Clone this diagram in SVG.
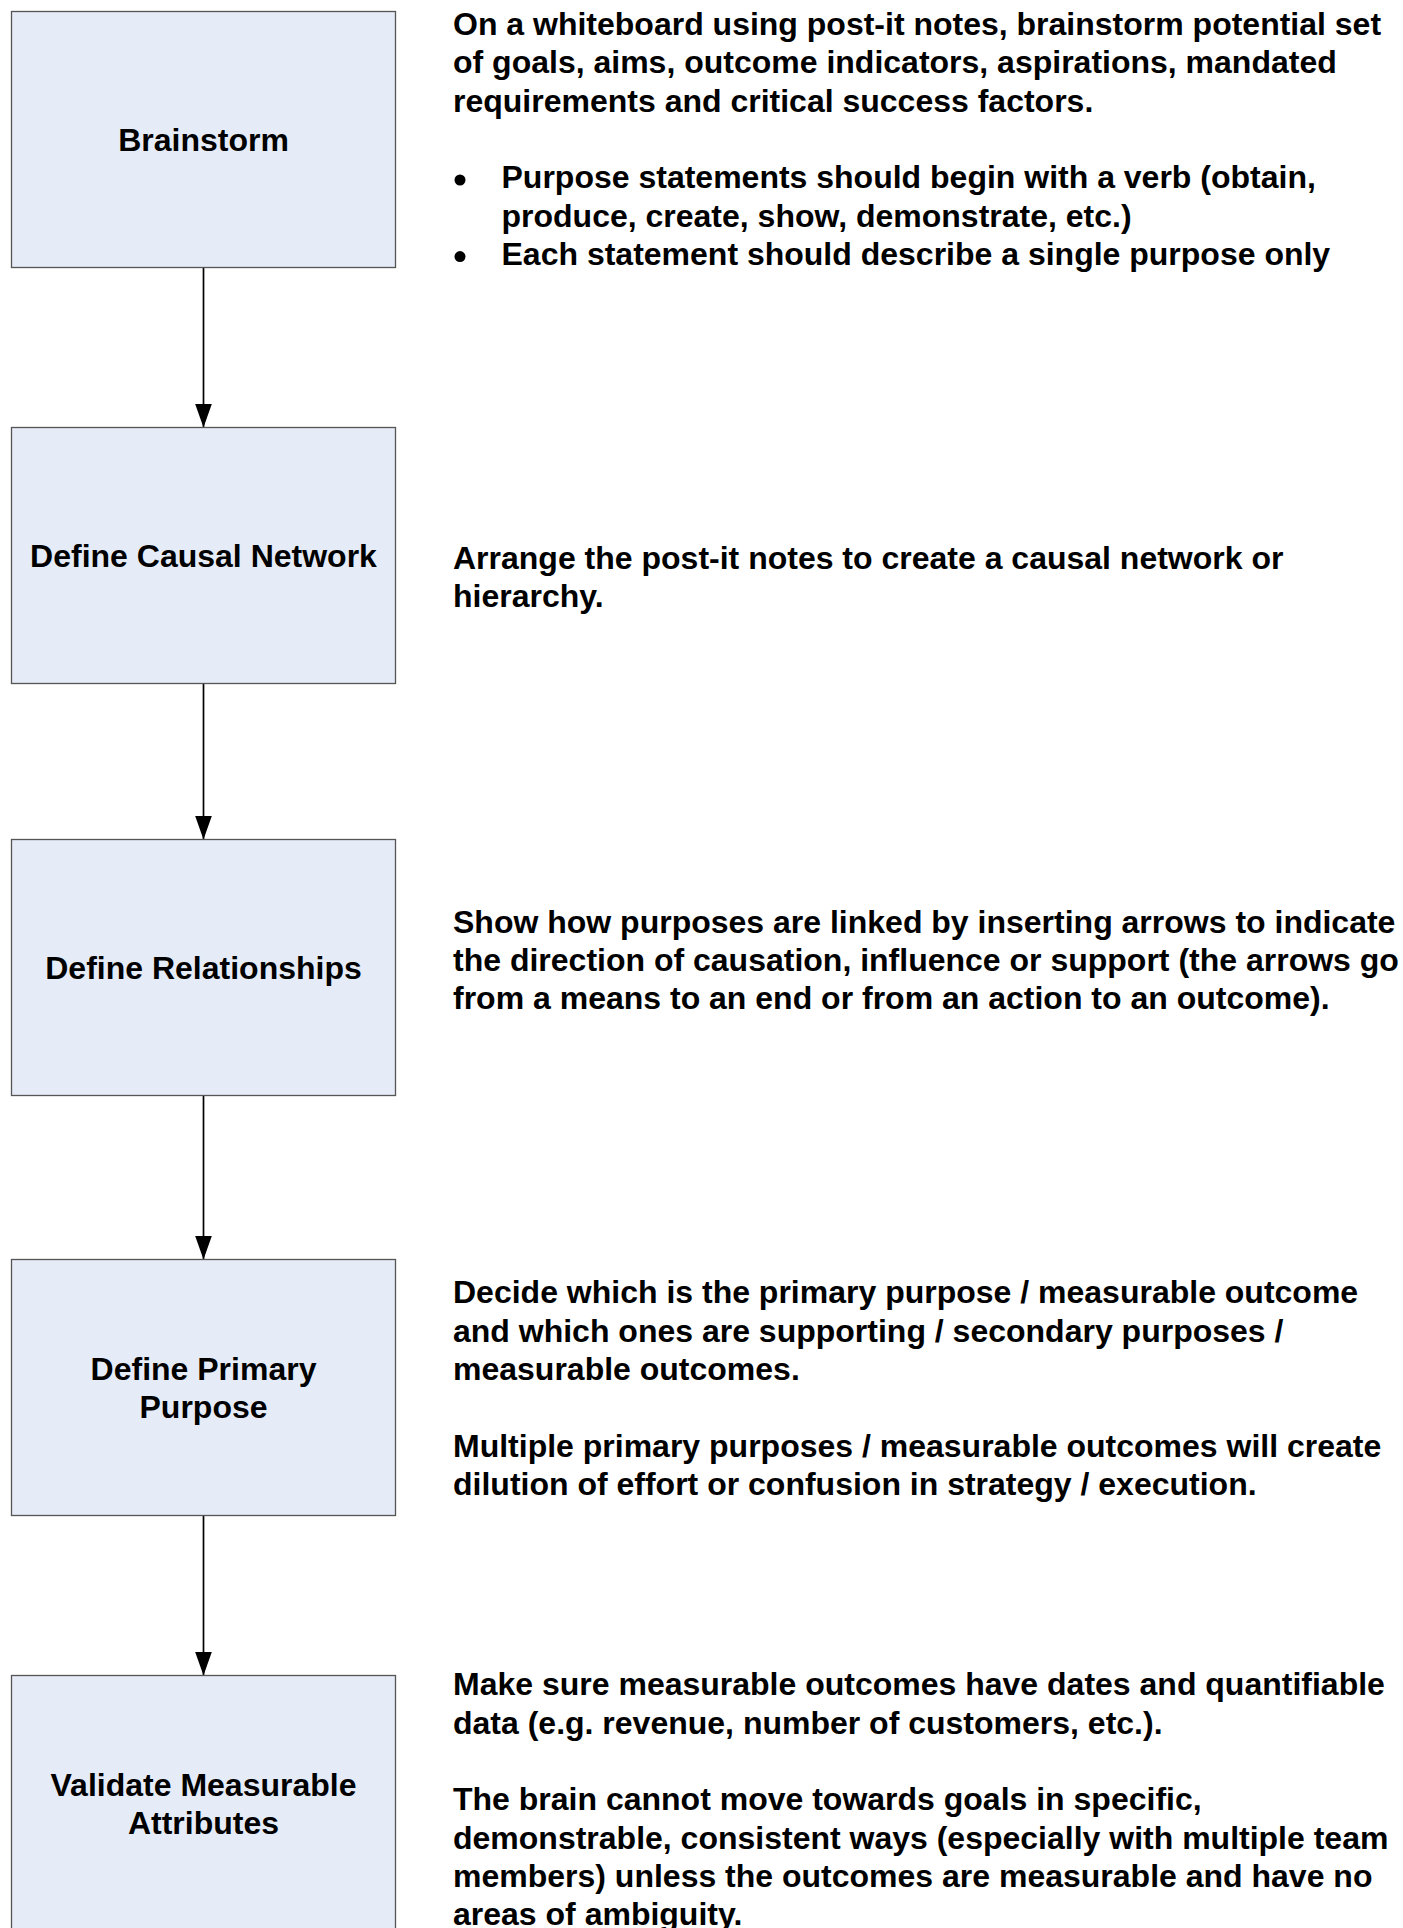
<svg xmlns="http://www.w3.org/2000/svg" width="1403" height="1928" viewBox="0 0 1403 1928">
<style>
.box{fill:#E6ECF7;stroke:#555555;stroke-width:1.3}
.lbl{font-family:"Liberation Sans",Arial,sans-serif;font-weight:bold;font-size:32px;fill:#000;text-anchor:middle}
.desc{font-family:"Liberation Sans",Arial,sans-serif;font-weight:bold;font-size:32px;fill:#000}
.conn{stroke:#000;stroke-width:1.7;fill:none}
</style>
<defs>
<marker id="ah" markerUnits="userSpaceOnUse" markerWidth="24" markerHeight="17" refX="24" refY="8.5" orient="auto" viewBox="0 0 24 17">
<path d="M0,0 L24,8.5 L0,17 Z" fill="#000"/>
</marker>
</defs>
<rect width="1403" height="1928" fill="#fff"/>
<g id="connectors">
<line class="conn" x1="203.5" y1="267.5" x2="203.5" y2="427.5" marker-end="url(#ah)"/>
<line class="conn" x1="203.5" y1="683.5" x2="203.5" y2="839.5" marker-end="url(#ah)"/>
<line class="conn" x1="203.5" y1="1095.5" x2="203.5" y2="1259.5" marker-end="url(#ah)"/>
<line class="conn" x1="203.5" y1="1515.5" x2="203.5" y2="1675.5" marker-end="url(#ah)"/>
</g>
<g id="node-brainstorm">
<rect class="box" x="11.5" y="11.5" width="384" height="256"/>
<text class="lbl" x="203.5" y="150.5">Brainstorm</text>
</g>
<g id="node-causal">
<rect class="box" x="11.5" y="427.5" width="384" height="256"/>
<text class="lbl" x="203.5" y="566.5">Define Causal Network</text>
</g>
<g id="node-relationships">
<rect class="box" x="11.5" y="839.5" width="384" height="256"/>
<text class="lbl" x="203.5" y="979">Define Relationships</text>
</g>
<g id="node-primary">
<rect class="box" x="11.5" y="1259.5" width="384" height="256"/>
<text class="lbl" x="203.5" y="1379.5">Define Primary</text>
<text class="lbl" x="203.5" y="1417.5">Purpose</text>
</g>
<g id="node-validate">
<rect class="box" x="11.5" y="1675.5" width="384" height="256"/>
<text class="lbl" x="203.5" y="1795.5">Validate Measurable</text>
<text class="lbl" x="203.5" y="1833.5">Attributes</text>
</g>
<g id="desc-brainstorm">
<text class="desc" x="453" y="35">On a whiteboard using post-it notes, brainstorm potential set</text>
<text class="desc" x="453" y="73.3">of goals, aims, outcome indicators, aspirations, mandated</text>
<text class="desc" x="453" y="111.6">requirements and critical success factors.</text>
<circle cx="460" cy="180" r="5.5" fill="#000"/>
<text class="desc" x="501.5" y="188.2">Purpose statements should begin with a verb (obtain,</text>
<text class="desc" x="501.5" y="226.5">produce, create, show, demonstrate, etc.)</text>
<circle cx="460" cy="256.6" r="5.5" fill="#000"/>
<text class="desc" x="501.5" y="264.8">Each statement should describe a single purpose only</text>
</g>
<g id="desc-causal">
<text class="desc" x="453" y="569">Arrange the post-it notes to create a causal network or</text>
<text class="desc" x="453" y="607.3">hierarchy.</text>
</g>
<g id="desc-relationships">
<text class="desc" x="453" y="932.5">Show how purposes are linked by inserting arrows to indicate</text>
<text class="desc" x="453" y="970.8">the direction of causation, influence or support (the arrows go</text>
<text class="desc" x="453" y="1009.1">from a means to an end or from an action to an outcome).</text>
</g>
<g id="desc-primary">
<text class="desc" x="453" y="1303.3">Decide which is the primary purpose / measurable outcome</text>
<text class="desc" x="453" y="1341.6">and which ones are supporting / secondary purposes /</text>
<text class="desc" x="453" y="1379.9">measurable outcomes.</text>
<text class="desc" x="453" y="1456.5">Multiple primary purposes / measurable outcomes will create</text>
<text class="desc" x="453" y="1494.8">dilution of effort or confusion in strategy / execution.</text>
</g>
<g id="desc-validate">
<text class="desc" x="453" y="1695.3">Make sure measurable outcomes have dates and quantifiable</text>
<text class="desc" x="453" y="1733.6">data (e.g. revenue, number of customers, etc.).</text>
<text class="desc" x="453" y="1810.2">The brain cannot move towards goals in specific,</text>
<text class="desc" x="453" y="1848.5">demonstrable, consistent ways (especially with multiple team</text>
<text class="desc" x="453" y="1886.8">members) unless the outcomes are measurable and have no</text>
<text class="desc" x="453" y="1925.1">areas of ambiguity.</text>
</g>
</svg>
